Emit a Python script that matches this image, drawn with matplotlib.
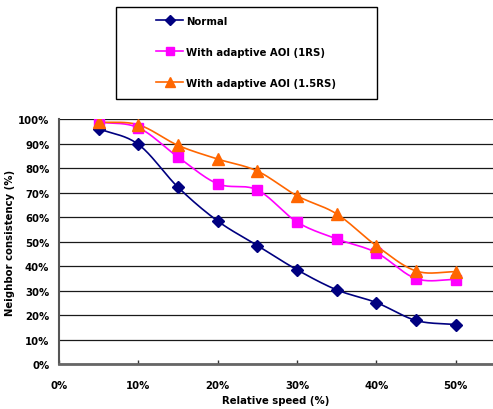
import numpy as np
import matplotlib
matplotlib.use("Agg")
import matplotlib.pyplot as plt
from matplotlib.patches import Rectangle
from matplotlib.ticker import PercentFormatter

# =========================
# data
# =========================
speed = [0.05, 0.10, 0.15, 0.20, 0.25, 0.30, 0.35, 0.40, 0.45, 0.50]
normal = [0.962, 0.898, 0.723, 0.585, 0.485, 0.386, 0.304, 0.252, 0.179, 0.162]
aoi_1rs = [0.989, 0.966, 0.846, 0.737, 0.712, 0.581, 0.512, 0.456, 0.350, 0.346]
aoi_15rs = [0.989, 0.978, 0.894, 0.838, 0.789, 0.688, 0.614, 0.484, 0.381, 0.378]

labels = ["Normal", "With adaptive AOI (1RS)", "With adaptive AOI (1.5RS)"]
xticks = [0, 0.1, 0.2, 0.3, 0.4, 0.5]
yticks = np.arange(0, 1.01, 0.1)


def smooth(x, y, n=20):
    # catmull-rom through the points, like the excel "smoothed line"
    x = np.asarray(x, float)
    y = np.asarray(y, float)
    px = np.concatenate([[2 * x[0] - x[1]], x, [2 * x[-1] - x[-2]]])
    py = np.concatenate([[2 * y[0] - y[1]], y, [2 * y[-1] - y[-2]]])
    xs, ys = [], []
    t = np.linspace(0, 1, n, endpoint=False)
    for i in range(1, len(px) - 2):
        for p, out in ((px, xs), (py, ys)):
            p0, p1, p2, p3 = p[i - 1], p[i], p[i + 1], p[i + 2]
            out.extend(0.5 * (2 * p1 + (-p0 + p2) * t
                              + (2 * p0 - 5 * p1 + 4 * p2 - p3) * t ** 2
                              + (-p0 + 3 * p1 - 3 * p2 + p3) * t ** 3))
    xs.append(x[-1])
    ys.append(y[-1])
    return np.array(xs), np.array(ys)


plt.rcParams["font.family"] = ["DejaVu Sans"]
plt.rcParams["font.weight"] = "bold"
fs = 7.3

fig = plt.figure(figsize=(4.93, 4.10), dpi=100)
ax = fig.add_axes([59 / 493, 44.7 / 410, 434 / 493, 244.9 / 410])

styles = [
    (normal, "#000080", "D", 6),
    (aoi_1rs, "#FF00FF", "s", 6.5),
    (aoi_15rs, "#FF6600", "^", 8.5),
]
handles = []
for (vals, col, mk, ms), lab in zip(styles, labels):
    sx, sy = smooth(speed, vals)
    ax.plot(sx, sy, color=col, lw=1.2, zorder=3)
    ax.plot(speed, vals, ls="none", marker=mk, ms=ms, color=col, zorder=4)
    h, = ax.plot([], [], color=col, lw=1.2, marker=mk, ms=ms - 1, label=lab)
    handles.append(h)

ax.set_xlim(0, 0.547)
ax.set_ylim(0, 1.0)
ax.set_xticks(xticks)
ax.set_yticks(yticks)
ax.xaxis.set_major_formatter(PercentFormatter(1.0, decimals=0))
ax.yaxis.set_major_formatter(PercentFormatter(1.0, decimals=0))
ax.tick_params(axis="x", direction="in", length=3, width=1, color="#333333",
               labelsize=fs, pad=11)
ax.tick_params(axis="y", length=0, labelsize=fs, pad=7)
ax.grid(axis="y", color="#1a1a1a", lw=0.9)
ax.set_axisbelow(True)

for side in ["top", "right"]:
    ax.spines[side].set_visible(False)
ax.spines["left"].set_color("#555555")
ax.spines["left"].set_linewidth(1.5)
ax.spines["bottom"].set_color("#666666")
ax.spines["bottom"].set_linewidth(2)

ax.set_xlabel("Relative speed (%)", fontsize=fs, fontweight="bold", labelpad=4)
ax.set_ylabel("Neighbor consistency (%)", fontsize=fs, fontweight="bold", labelpad=2)

# legend box drawn separately so the padding can be like the original
fig.patches.append(Rectangle((116 / 493, 1 - 100 / 410), 261 / 493, 92 / 410,
                             transform=fig.transFigure, fill=False,
                             edgecolor="black", lw=1))
fig.legend(handles=handles, loc="upper left", bbox_to_anchor=(156 / 493, 1 - 17 / 410),
           frameon=False, fontsize=fs, borderpad=0, borderaxespad=0,
           handlelength=2.7, handletextpad=0.3, labelspacing=2.05, numpoints=1)

fig.savefig("out.png", dpi=100)
